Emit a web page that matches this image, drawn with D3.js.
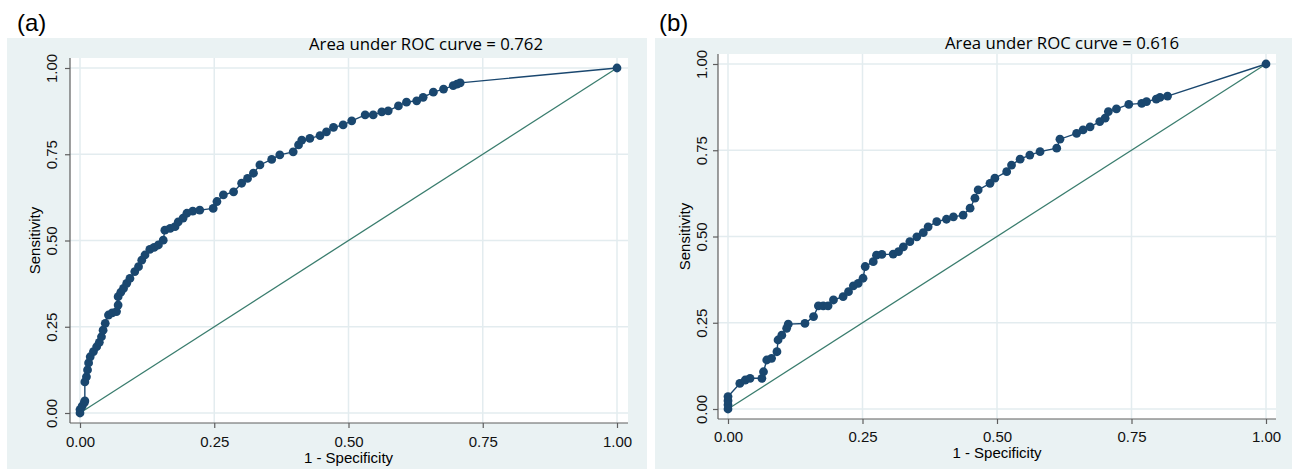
<!DOCTYPE html>
<html>
<head>
<meta charset="utf-8">
<script src="https://cdn.jsdelivr.net/npm/d3@7"></script>
<style>
  body { margin: 0; background: #fff; }
  svg { display: block; }
</style>
</head>
<body>
<svg id="chart" width="1292" height="469"></svg>
<script>
// ROC readings, panel (a)
const fprA = [0, 0, 0.004, 0.008, 0.009, 0.009, 0.012, 0.014, 0.016, 0.019, 0.025, 0.031, 0.036, 0.040, 0.043, 0.047, 0.053, 0.060, 0.068, 0.071, 0.071, 0.076, 0.081, 0.087, 0.093, 0.102, 0.109, 0.115, 0.121, 0.130, 0.138, 0.146, 0.155, 0.158, 0.168, 0.177, 0.183, 0.192, 0.199, 0.210, 0.223, 0.248, 0.255, 0.267, 0.286, 0.301, 0.312, 0.323, 0.335, 0.357, 0.372, 0.397, 0.407, 0.413, 0.428, 0.447, 0.459, 0.472, 0.490, 0.506, 0.531, 0.546, 0.562, 0.574, 0.593, 0.608, 0.627, 0.639, 0.658, 0.677, 0.695, 0.702, 0.708, 1];
const sensA = [0, 0.01, 0.02, 0.03, 0.035, 0.09, 0.105, 0.125, 0.145, 0.163, 0.178, 0.192, 0.205, 0.221, 0.24, 0.26, 0.284, 0.29, 0.294, 0.313, 0.337, 0.35, 0.361, 0.376, 0.39, 0.41, 0.424, 0.443, 0.458, 0.474, 0.48, 0.487, 0.501, 0.530, 0.535, 0.540, 0.554, 0.565, 0.579, 0.585, 0.588, 0.593, 0.613, 0.632, 0.641, 0.666, 0.68, 0.695, 0.719, 0.735, 0.748, 0.757, 0.777, 0.791, 0.796, 0.804, 0.815, 0.828, 0.835, 0.847, 0.864, 0.864, 0.873, 0.876, 0.890, 0.901, 0.905, 0.915, 0.930, 0.939, 0.949, 0.953, 0.957, 1];

// ROC readings, panel (b)
const fprB = [0, 0, 0, 0, 0.022, 0.032, 0.041, 0.063, 0.066, 0.072, 0.081, 0.091, 0.093, 0.100, 0.109, 0.112, 0.143, 0.159, 0.168, 0.177, 0.186, 0.196, 0.214, 0.224, 0.233, 0.242, 0.251, 0.255, 0.270, 0.276, 0.286, 0.307, 0.317, 0.326, 0.338, 0.351, 0.363, 0.372, 0.388, 0.406, 0.419, 0.437, 0.450, 0.459, 0.465, 0.487, 0.496, 0.518, 0.527, 0.543, 0.561, 0.580, 0.611, 0.617, 0.648, 0.660, 0.673, 0.691, 0.701, 0.707, 0.722, 0.745, 0.769, 0.778, 0.796, 0.803, 0.817, 1];
const sensB = [0, 0.012, 0.024, 0.036, 0.074, 0.084, 0.089, 0.089, 0.108, 0.142, 0.147, 0.166, 0.2, 0.214, 0.234, 0.246, 0.248, 0.268, 0.299, 0.299, 0.299, 0.316, 0.326, 0.340, 0.357, 0.364, 0.379, 0.413, 0.427, 0.446, 0.448, 0.449, 0.456, 0.470, 0.485, 0.499, 0.511, 0.528, 0.543, 0.550, 0.557, 0.562, 0.582, 0.611, 0.635, 0.654, 0.669, 0.688, 0.707, 0.724, 0.736, 0.746, 0.756, 0.782, 0.799, 0.809, 0.818, 0.833, 0.843, 0.862, 0.870, 0.883, 0.886, 0.891, 0.898, 0.903, 0.907, 1];

const tickValues = [0, 0.25, 0.5, 0.75, 1];
const panelLabels = ["(a)", "(b)"];
const aucValues = ["0.762", "0.616"];

const NAVY = "#1a476f";
const REF = "#3a7d6e";
const BG = "#eaf2f3";
const GRID = "#e3ecef";
const AXIS = "#5e5e5e";

const svg = d3.select("#chart");

const panels = [
  { fpr: fprA, sens: sensA, label: panelLabels[0], auc: aucValues[0],
    bg: [7, 38, 647, 469], plot: [70, 58, 628, 423],
    x0: 80, x1: 617, y0: 413, y1: 68,
    labelX: 17, titleX: 309, titleY: 50, yLab: 13, xLab: 24, xTitleY: 463, yTitleX: 40 },
  { fpr: fprB, sens: sensB, label: panelLabels[1], auc: aucValues[1],
    bg: [655, 38, 1292, 469], plot: [718, 54, 1276, 419],
    x0: 728, x1: 1266, y0: 409, y1: 64,
    labelX: 659, titleX: 945, titleY: 49, yLab: 11, xLab: 23, xTitleY: 458, yTitleX: 690 }
];

panels.forEach(function(p) {
  const g = svg.append("g");

  g.append("text")
    .attr("x", p.labelX).attr("y", 31)
    .attr("font-family", "Liberation Sans, Arial, sans-serif")
    .attr("font-size", 24)
    .text(p.label);

  g.append("rect")
    .attr("x", p.bg[0]).attr("y", p.bg[1])
    .attr("width", p.bg[2] - p.bg[0]).attr("height", p.bg[3] - p.bg[1])
    .attr("fill", BG);

  g.append("rect")
    .attr("x", p.plot[0]).attr("y", p.plot[1])
    .attr("width", p.plot[2] - p.plot[0]).attr("height", p.plot[3] - p.plot[1])
    .attr("fill", "#fff");

  const x = d3.scaleLinear().domain([0, 1]).range([p.x0, p.x1]);
  const y = d3.scaleLinear().domain([0, 1]).range([p.y0, p.y1]);

  // grid
  g.append("g").selectAll("line").data(tickValues).join("line")
    .attr("x1", d => x(d)).attr("x2", d => x(d))
    .attr("y1", p.plot[1]).attr("y2", p.plot[3])
    .attr("stroke", GRID).attr("stroke-width", 1.5);
  g.append("g").selectAll("line").data(tickValues).join("line")
    .attr("y1", d => y(d)).attr("y2", d => y(d))
    .attr("x1", p.plot[0]).attr("x2", p.plot[2])
    .attr("stroke", GRID).attr("stroke-width", 1.5);

  // axes
  const xAxis = g.append("g")
    .attr("transform", `translate(0,${p.plot[3]})`)
    .call(d3.axisBottom(x).tickValues(tickValues).tickFormat(d3.format(".2f")).tickSize(5).tickSizeOuter(0));
  const yAxis = g.append("g")
    .attr("transform", `translate(${p.plot[0]},0)`)
    .call(d3.axisLeft(y).tickValues(tickValues).tickFormat(d3.format(".2f")).tickSize(5).tickSizeOuter(0));

  [xAxis, yAxis].forEach(a => {
    a.select(".domain").remove();
    a.selectAll(".tick line").attr("stroke", AXIS).attr("stroke-width", 1.2);
    a.selectAll("text")
      .attr("font-family", "Liberation Sans, Arial, sans-serif")
      .attr("font-size", 15).attr("fill", "#111");
  });
  xAxis.selectAll("text").attr("y", p.xLab).attr("dy", 0);
  yAxis.selectAll("text")
    .attr("text-anchor", "middle")
    .attr("transform", "rotate(-90)")
    .attr("x", 0).attr("y", -p.yLab).attr("dy", 0);

  g.append("line")
    .attr("x1", p.plot[0]).attr("x2", p.plot[0])
    .attr("y1", p.plot[1]).attr("y2", p.plot[3])
    .attr("stroke", AXIS).attr("stroke-width", 1.2);
  g.append("line")
    .attr("x1", p.plot[0]).attr("x2", p.plot[2])
    .attr("y1", p.plot[3]).attr("y2", p.plot[3])
    .attr("stroke", AXIS).attr("stroke-width", 1.2);

  // axis titles
  g.append("text")
    .attr("x", (p.x0 + p.x1) / 2).attr("y", p.xTitleY)
    .attr("text-anchor", "middle")
    .attr("font-family", "Liberation Sans, Arial, sans-serif")
    .attr("font-size", 15)
    .text("1 - Specificity");
  g.append("text")
    .attr("transform", `translate(${p.yTitleX},${(p.y0 + p.y1) / 2}) rotate(-90)`)
    .attr("text-anchor", "middle")
    .attr("font-family", "Liberation Sans, Arial, sans-serif")
    .attr("font-size", 15)
    .text("Sensitivity");

  // AUC title
  g.append("text")
    .attr("x", p.titleX).attr("y", p.titleY)
    .attr("font-family", "'Open Sans', Lato, sans-serif")
    .attr("font-size", 16)
    .attr("textLength", 234).attr("lengthAdjust", "spacingAndGlyphs")
    .text("Area under ROC curve = " + p.auc);

  // reference diagonal
  g.append("line")
    .attr("x1", x(0)).attr("y1", y(0))
    .attr("x2", x(1)).attr("y2", y(1))
    .attr("stroke", REF).attr("stroke-width", 1.3);

  const pts = p.fpr.map((v, i) => [v, p.sens[i]]);

  g.append("path")
    .datum(pts)
    .attr("fill", "none")
    .attr("stroke", NAVY).attr("stroke-width", 1.4)
    .attr("d", d3.line().x(d => x(d[0])).y(d => y(d[1])));

  g.append("g").selectAll("circle").data(pts).join("circle")
    .attr("cx", d => x(d[0])).attr("cy", d => y(d[1]))
    .attr("r", 4.4)
    .attr("fill", NAVY);
});
</script>
</body>
</html>
